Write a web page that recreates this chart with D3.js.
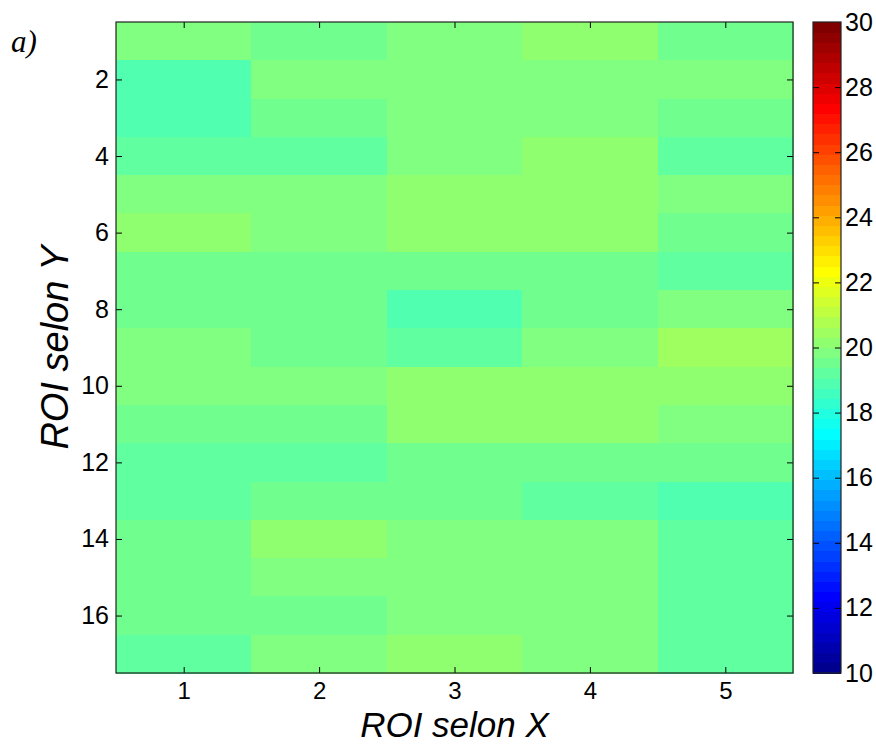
<!DOCTYPE html>
<html>
<head>
<meta charset="utf-8">
<script src="https://cdn.jsdelivr.net/npm/d3@7"></script>
<style>
  html, body { margin: 0; padding: 0; background: #fff; }
  svg { display: block; }
</style>
</head>
<body>
<svg id="chart" width="876" height="744"></svg>
<script>
// ---- data ----
const xCategories = [1, 2, 3, 4, 5];
const yCategories = [1, 2, 3, 4, 5, 6, 7, 8, 9, 10, 11, 12, 13, 14, 15, 16, 17];
const xTickValues = [1, 2, 3, 4, 5];
const yTickValues = [2, 4, 6, 8, 10, 12, 14, 16];
const colorTickValues = [10, 12, 14, 16, 18, 20, 22, 24, 26, 28, 30];
const colorDomain = [10, 30];
// values[row][col], rows 1..17 (top to bottom), cols 1..5
const values = [
  [19.85, 19.5, 19.85, 20.15, 19.5],
  [18.9, 19.85, 19.85, 19.85, 19.85],
  [18.9, 19.5, 19.85, 19.85, 19.5],
  [19.2, 19.2, 19.85, 20.15, 19.2],
  [19.85, 19.85, 20.15, 20.15, 19.85],
  [20.15, 19.85, 20.15, 20.15, 19.5],
  [19.5, 19.5, 19.5, 19.5, 19.2],
  [19.5, 19.5, 18.9, 19.5, 19.85],
  [19.85, 19.5, 19.2, 19.85, 20.45],
  [19.85, 19.85, 20.15, 20.15, 20.15],
  [19.5, 19.5, 20.15, 20.15, 19.85],
  [19.2, 19.2, 19.5, 19.5, 19.5],
  [19.2, 19.5, 19.5, 19.2, 18.9],
  [19.5, 20.15, 19.85, 19.85, 19.2],
  [19.5, 19.85, 19.85, 19.85, 19.2],
  [19.5, 19.5, 19.85, 19.85, 19.2],
  [19.2, 19.85, 20.15, 19.85, 19.2]
];

// ---- MATLAB jet(64) ----
function jetColors(m) {
  const n = Math.ceil(m / 4);
  const u = [];
  for (let i = 1; i <= n; i++) u.push(i / n);
  for (let i = 1; i < n; i++) u.push(1);
  for (let i = n; i >= 1; i--) u.push(i / n);
  const gOff = Math.ceil(n / 2) - (m % 4 === 1 ? 1 : 0);
  const cols = [];
  const get = i => (i >= 1 && i <= u.length) ? u[i - 1] : 0;
  for (let r = 1; r <= m; r++) {
    const gi = r - gOff, ri = r - gOff - n, bi = r - gOff + n;
    cols.push(d3.rgb(Math.round(get(ri) * 255), Math.round(get(gi) * 255), Math.round(get(bi) * 255)).formatHex());
  }
  return cols;
}
const jet = jetColors(64);
const color = d3.scaleQuantize().domain(colorDomain).range(jet);

// ---- layout ----
const SANS = "'Liberation Sans', Arial, Helvetica, sans-serif";
const svg = d3.select("#chart");
const L = 116, R = 793, T = 22, B = 673;
const cbL = 813, cbR = 841;

const x = d3.scaleLinear().domain([0.5, 5.5]).range([L, R]);
const y = d3.scaleLinear().domain([0.5, 17.5]).range([T, B]);

// cells
const cells = [];
yCategories.forEach((r, ri) => xCategories.forEach((c, ci) => cells.push({ r, c, v: values[ri][ci] })));
svg.append("g").selectAll("rect").data(cells).join("rect")
  .attr("x", d => x(d.c - 0.5))
  .attr("y", d => y(d.r - 0.5))
  .attr("width", d => x(d.c + 0.5) - x(d.c - 0.5) + 0.5)
  .attr("height", d => y(d.r + 0.5) - y(d.r - 0.5) + 0.5)
  .attr("fill", d => color(d.v))
  .attr("shape-rendering", "crispEdges");

// axes
const tickLen = 6;
function styleAxis(g, showLabels, fontSize) {
  g.select(".domain").remove();
  g.attr("font-family", SANS);
  g.selectAll(".tick line").attr("stroke", "#000").attr("stroke-width", 1);
  if (!showLabels) g.selectAll(".tick text").remove();
  else g.selectAll(".tick text").attr("font-size", fontSize).attr("fill", "#000");
}
svg.append("g").attr("transform", `translate(${L},0)`)
  .call(d3.axisLeft(y).tickValues(yTickValues).tickSize(-tickLen).tickPadding(7).tickFormat(d3.format("d")))
  .call(g => styleAxis(g, true, 25));
svg.append("g").attr("transform", `translate(${R},0)`)
  .call(d3.axisRight(y).tickValues(yTickValues).tickSize(-tickLen))
  .call(g => styleAxis(g, false));
svg.append("g").attr("transform", `translate(0,${B})`)
  .call(d3.axisBottom(x).tickValues(xTickValues).tickSize(-tickLen).tickPadding(9).tickFormat(d3.format("d")))
  .call(g => styleAxis(g, true, 24));
svg.append("g").attr("transform", `translate(0,${T})`)
  .call(d3.axisTop(x).tickValues(xTickValues).tickSize(-tickLen))
  .call(g => styleAxis(g, false));

svg.append("rect").attr("x", L).attr("y", T).attr("width", R - L).attr("height", B - T)
  .attr("fill", "none").attr("stroke", "#222").attr("stroke-width", 1.2);

// colorbar
const cy = d3.scaleLinear().domain(colorDomain).range([B, T]);
const step = (colorDomain[1] - colorDomain[0]) / jet.length;
svg.append("g").selectAll("rect").data(jet).join("rect")
  .attr("x", cbL)
  .attr("y", (d, i) => cy(colorDomain[0] + (i + 1) * step))
  .attr("width", cbR - cbL)
  .attr("height", (d, i) => cy(colorDomain[0] + i * step) - cy(colorDomain[0] + (i + 1) * step) + 0.5)
  .attr("fill", d => d)
  .attr("shape-rendering", "crispEdges");
svg.append("g").attr("transform", `translate(${cbR},0)`)
  .call(d3.axisRight(cy).tickValues(colorTickValues).tickSize(-tickLen).tickPadding(4).tickFormat(d3.format("d")))
  .call(g => styleAxis(g, true, 25))
  .call(g => g.selectAll(".tick").filter(d => d === 10 || d === 30).select("line").remove());
svg.append("g").attr("transform", `translate(${cbL},0)`)
  .call(d3.axisLeft(cy).tickValues(colorTickValues).tickSize(-tickLen))
  .call(g => styleAxis(g, false))
  .call(g => g.selectAll(".tick").filter(d => d === 10 || d === 30).select("line").remove());
svg.append("rect").attr("x", cbL).attr("y", T).attr("width", cbR - cbL).attr("height", B - T)
  .attr("fill", "none").attr("stroke", "#222").attr("stroke-width", 1.2);

// axis titles
svg.append("text").attr("x", (L + R) / 2).attr("y", 737)
  .attr("font-family", SANS)
  .attr("text-anchor", "middle").attr("font-style", "italic").attr("font-size", 35)
  .text("ROI selon X");
svg.append("text").attr("transform", `translate(68,${(T + B) / 2}) rotate(-90)`)
  .attr("font-family", SANS)
  .attr("text-anchor", "middle").attr("font-style", "italic").attr("font-size", 38)
  .text("ROI selon Y");

// panel label
svg.append("text").attr("x", 11).attr("y", 52)
  .attr("font-family", "'Liberation Serif', 'Times New Roman', serif")
  .attr("font-style", "italic").attr("font-size", 31)
  .text("a)");
</script>
</body>
</html>
